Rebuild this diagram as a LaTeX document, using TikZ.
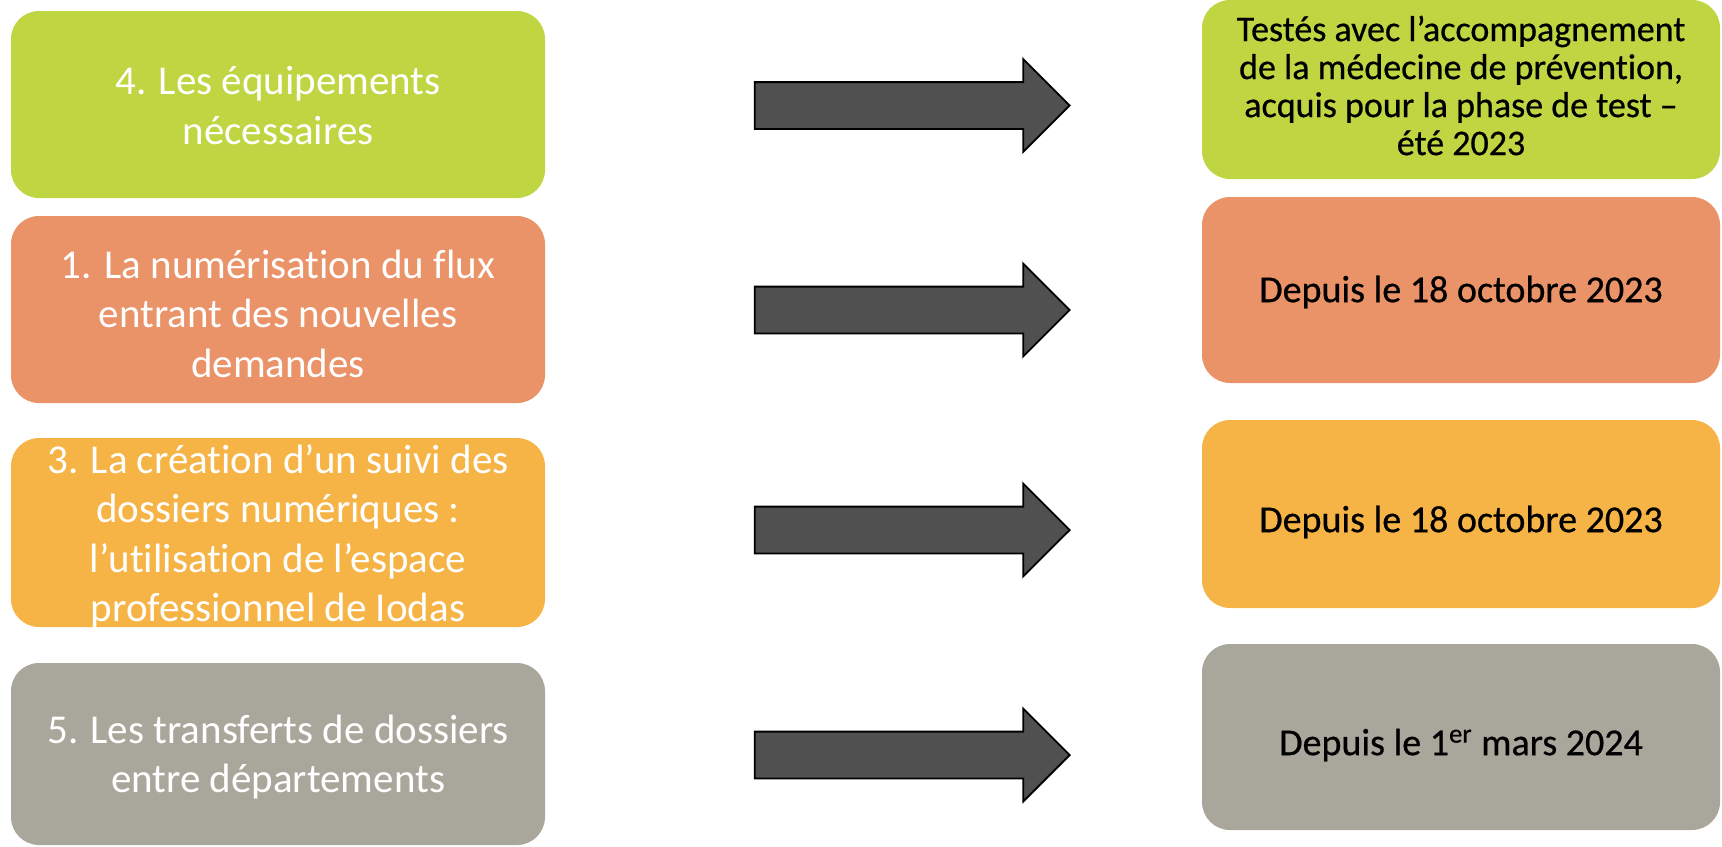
\documentclass[tikz,border=0pt]{standalone}
\usepackage{fontspec}
\setmainfont{Carlito}[Ligatures=NoCommon]
\newfontfamily\darkfont{Carlito}[Ligatures=NoCommon,FakeBold=0.6]
\usetikzlibrary{shapes.arrows}

\definecolor{lime}{RGB}{192,213,66}
\definecolor{salmon}{RGB}{234,146,104}
\definecolor{amber}{RGB}{246,180,70}
\definecolor{stone}{RGB}{169,167,155}
\definecolor{arrowgray}{RGB}{80,80,80}

\begin{document}
\begin{tikzpicture}[x=0.5pt,y=-0.5pt,
  box/.style={rectangle,rounded corners=14pt,inner sep=0pt},
  lbox/.style={box,minimum width=267pt},
  rbox/.style={box,minimum width=259pt},
  ltext/.style={text=white,align=center,font=\fontsize{20.5}{24.75}\selectfont},
  rtext/.style={text=black,align=center,font=\darkfont\fontsize{18}{19}\selectfont},
  rdate/.style={rtext,font=\darkfont\fontsize{19}{20}\selectfont},
  bigarrow/.style={single arrow,draw=black,line width=0.9pt,fill=arrowgray,
    minimum height=157.5pt,inner sep=0pt,inner ysep=11.25pt,
    single arrow head extend=11.5pt,single arrow head indent=0pt}]
  \useasboundingbox (0,0) rectangle (1722,846);

  % left column
  \node[lbox,fill=lime,minimum height=93.5pt] (l4) at (278,104.5) {};
  \node[lbox,fill=salmon,minimum height=93.5pt] (l1) at (278,309.5) {};
  \node[lbox,fill=amber,minimum height=94.5pt] (l3) at (278,532.5) {};
  \node[lbox,fill=stone,minimum height=91pt] (l5) at (278,754) {};
  \node[ltext] (l4t) at ([yshift=-0.5pt]l4.center) {4. Les équipements\\nécessaires};
  \node[ltext] (l1t) at ([yshift=-2pt]l1.center) {1. La numérisation du flux\\entrant des nouvelles\\demandes};
  \node[ltext] (l3t) at ([yshift=-2pt]l3.center) {3. La création d’un suivi des\\dossiers numériques :\\l’utilisation de l’espace\\professionnel de Iodas};
  \node[ltext] (l5t) at ([yshift=-1.5pt]l5.center) {5. Les transferts de dossiers\\entre départements};

  % right column
  \node[rbox,fill=lime,minimum height=89.5pt] (r4) at (1461,89.5) {};
  \node[rbox,fill=salmon,minimum height=93pt] (r1) at (1461,290) {};
  \node[rbox,fill=amber,minimum height=94pt] (r3) at (1461,514) {};
  \node[rbox,fill=stone,minimum height=93pt] (r5) at (1461,737) {};
  \node[rtext] (r4t) at ([yshift=2pt]r4.center) {Testés avec l’accompagnement\\de la médecine de prévention,\\acquis pour la phase de test –\\été 2023};
  \node[rdate] (r1t) at ([yshift=-1pt]r1.center) {Depuis le 18 octobre 2023};
  \node[rdate] (r3t) at ([yshift=-4pt]r3.center) {Depuis le 18 octobre 2023};
  \node[rdate] (r5t) at ([yshift=-4pt]r5.center) {Depuis le 1\textsuperscript{er} mars 2024};

  % arrows
  \node[bigarrow] (a4) at (900.5,105.5) {};
  \node[bigarrow] (a1) at (900.5,310) {};
  \node[bigarrow] (a3) at (900.5,530) {};
  \node[bigarrow] (a5) at (900.5,755) {};
\end{tikzpicture}
\end{document}
